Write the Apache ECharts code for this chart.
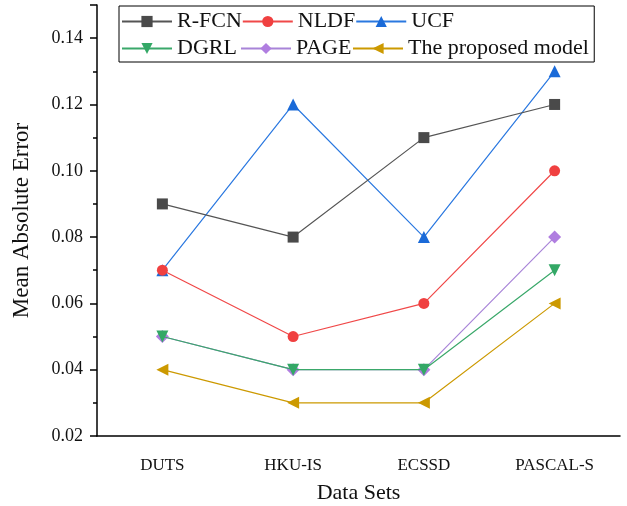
<!DOCTYPE html>
<html><head><meta charset="utf-8">
<script src="https://cdn.jsdelivr.net/npm/echarts@6/dist/echarts.min.js"></script>
<style>html,body{margin:0;padding:0;background:#fff}#c{width:627px;height:506px}</style>
</head><body><div id="c"></div>
<script>
const categories = ['DUTS', 'HKU-IS', 'ECSSD', 'PASCAL-S'];
const seriesNames = ['R-FCN', 'NLDF', 'UCF', 'DGRL', 'PAGE', 'The proposed model'];
const rfcn = [0.09, 0.08, 0.11, 0.12];
const nldf = [0.07, 0.05, 0.06, 0.10];
const ucf = [0.07, 0.12, 0.08, 0.13];
const dgrl = [0.05, 0.04, 0.04, 0.07];
const page = [0.05, 0.04, 0.04, 0.08];
const proposed = [0.04, 0.03, 0.03, 0.06];
const values = [rfcn, nldf, ucf, dgrl, page, proposed];
const yTickLabels = ['0.02', '0.04', '0.06', '0.08', '0.10', '0.12', '0.14'];

const font = 'Liberation Serif';
const lineColors = ['#555555', '#f04848', '#2a78e0', '#3aa86a', '#a884d8', '#cc9900'];
const markColors = ['#4a4a4a', '#f04040', '#1a6ad8', '#33a866', '#b07ee0', '#cc9900'];
const symbols = ['rect', 'circle', 'triangle', 'path://M0,0 L10,0 L5,9 Z', 'diamond', 'path://M0,5 L9,0 L9,10 Z'];
const sizes = [11, 11, 12, 12, 13, 12];
const legendColWidths = [63, 56, 182];

const legendItem = (i) => ({ name: seriesNames[i], textStyle: { width: legendColWidths[i % 3] } });

const chart = echarts.init(document.getElementById('c'));
chart.setOption({
  animation: false,
  grid: { left: 97, right: 7, top: 5, bottom: 70, outerBoundsMode: 'none', containLabel: false },
  legend: {
    left: 119, top: 6,
    padding: [2, 1, 0, 2],
    borderColor: '#000', borderWidth: 1,
    itemWidth: 50, itemHeight: 14, itemGap: 0,
    textStyle: { fontFamily: font, fontSize: 22, color: '#111', lineHeight: 27 },
    data: [legendItem(0), legendItem(1), legendItem(2), '\n', legendItem(3), legendItem(4), legendItem(5)]
  },
  xAxis: [{
    type: 'category', data: categories, boundaryGap: true,
    name: 'Data Sets', nameLocation: 'middle', nameGap: 46,
    nameTextStyle: { fontFamily: font, fontSize: 22, color: '#111' },
    axisLine: { lineStyle: { color: '#000', width: 1.5 } },
    axisTick: { alignWithLabel: true, length: 7, lineStyle: { color: '#000', width: 1.5 } },
    axisLabel: { fontFamily: font, fontSize: 17, color: '#111', margin: 21 },
    splitLine: { show: false }
  }, {
    type: 'category', data: categories, boundaryGap: true, position: 'bottom',
    axisLine: { show: false },
    axisTick: { alignWithLabel: false, length: 4, lineStyle: { color: '#000', width: 1.5 } },
    axisLabel: { show: false }, splitLine: { show: false }
  }],
  yAxis: {
    type: 'value', min: 0.02, max: 0.15, interval: 0.02,
    name: 'Mean Absolute Error', nameLocation: 'middle', nameGap: 64,
    nameTextStyle: { fontFamily: font, fontSize: 23, color: '#111' },
    axisLine: { show: true, lineStyle: { color: '#000', width: 1.5 } },
    axisTick: { show: true, length: 7, lineStyle: { color: '#000', width: 1.5 } },
    minorTick: { show: true, splitNumber: 2, length: 4, lineStyle: { color: '#000', width: 1.5 } },
    axisLabel: {
      fontFamily: font, fontSize: 18, color: '#111', margin: 14, showMaxLabel: false,
      formatter: v => { const s = v.toFixed(2); return yTickLabels.indexOf(s) >= 0 ? s : ''; }
    },
    splitLine: { show: false }
  },
  series: seriesNames.map((n, i) => ({
    name: n, type: 'line', data: values[i],
    symbol: symbols[i], symbolSize: sizes[i],
    lineStyle: { color: lineColors[i], width: 1.2 },
    itemStyle: { color: markColors[i] },
    z: 10 - i
  }))
});
</script></body></html>
